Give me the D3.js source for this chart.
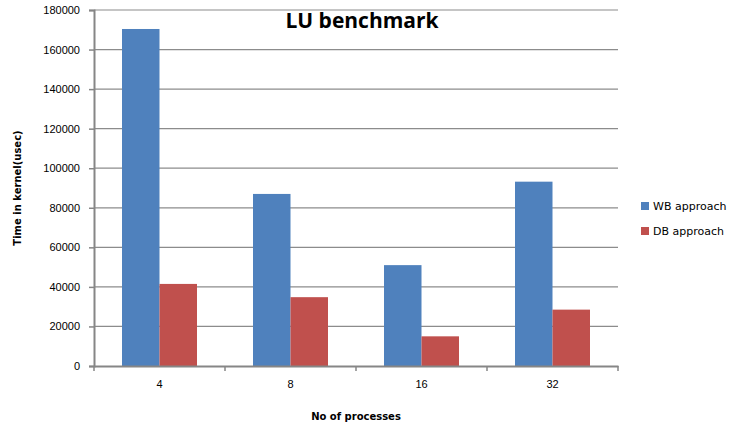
<!DOCTYPE html>
<html>
<head>
<meta charset="utf-8">
<script src="https://cdn.jsdelivr.net/npm/d3@7"></script>
<style>
  body { margin: 0; background: #fff; }
  svg { display: block; font-family: "DejaVu Sans", Verdana, sans-serif; }
</style>
</head>
<body>
<svg id="chart" width="730" height="427"></svg>
<script>
// LU benchmark: kernel time per process count
const categories = ["4", "8", "16", "32"];
const seriesNames = ["WB approach", "DB approach"];
const wbValues = [170400, 87000, 51000, 93200];
const dbValues = [41500, 34800, 15000, 28500];
const yTicks = [0, 20000, 40000, 60000, 80000, 100000, 120000, 140000, 160000, 180000];
const colors = ["#4F81BD", "#C0504D"];

(function () {
  const svg = d3.select("#chart");
  const plotLeft = 94, plotRight = 618, plotTop = 10, plotBottom = 366;

  const x = d3.scaleBand().domain(categories).range([plotLeft, plotRight]).paddingInner(0).paddingOuter(0);
  const xInner = d3.scaleBand().domain(seriesNames).range([0, x.bandwidth()]).paddingInner(0).paddingOuter(0.747);
  const y = d3.scaleLinear().domain([0, 180000]).range([plotBottom, plotTop]);

  // horizontal gridlines
  svg.append("g")
    .selectAll("line")
    .data(yTicks.slice(1))
    .join("line")
    .attr("x1", plotLeft).attr("x2", plotRight)
    .attr("y1", d => y(d)).attr("y2", d => y(d))
    .attr("stroke", "#8c8c8c").attr("stroke-width", 1.2);

  // bars
  const rows = categories.map((c, i) => ({ c, vals: [wbValues[i], dbValues[i]] }));
  const groups = svg.append("g").selectAll("g")
    .data(rows).join("g")
    .attr("transform", d => `translate(${x(d.c)},0)`);
  groups.selectAll("rect")
    .data(d => d.vals.map((v, k) => ({ v, k })))
    .join("rect")
    .attr("x", d => xInner(seriesNames[d.k]))
    .attr("width", xInner.bandwidth())
    .attr("y", d => y(d.v))
    .attr("height", d => plotBottom - y(d.v))
    .attr("fill", d => colors[d.k]);

  // y axis
  const yAxis = svg.append("g")
    .attr("transform", `translate(${plotLeft},0)`)
    .call(d3.axisLeft(y).tickValues(yTicks).tickSize(5).tickPadding(9).tickFormat(d3.format("d")));
  yAxis.select(".domain").attr("stroke", "#868686").attr("stroke-width", 2);
  yAxis.selectAll(".tick line").attr("stroke", "#868686").attr("stroke-width", 1.5);
  yAxis.selectAll("text").attr("font-size", 11).attr("fill", "#000");

  // x axis
  const xAxis = svg.append("g")
    .attr("transform", `translate(0,${plotBottom})`)
    .call(d3.axisBottom(x).tickSize(0).tickPadding(14));
  xAxis.select(".domain").attr("stroke", "#868686").attr("stroke-width", 2);
  xAxis.selectAll("text").attr("font-size", 11).attr("fill", "#000");
  // category separators
  xAxis.append("g").selectAll("line")
    .data(categories.map(c => x(c)).concat([plotRight]))
    .join("line")
    .attr("x1", d => d).attr("x2", d => d)
    .attr("y1", 0).attr("y2", 5)
    .attr("stroke", "#868686").attr("stroke-width", 1.5);

  // title
  svg.append("text")
    .attr("x", 362).attr("y", 28)
    .attr("text-anchor", "middle")
    .attr("font-family", "'Open Sans', 'DejaVu Sans', sans-serif")
    .attr("font-weight", "bold").attr("font-size", 21)
    .text("LU benchmark");

  // axis titles
  svg.append("text")
    .attr("transform", "translate(21,188) rotate(-90)")
    .attr("text-anchor", "middle")
    .attr("font-weight", "bold").attr("font-size", 10)
    .text("Time in kernel(usec)");
  svg.append("text")
    .attr("x", 356).attr("y", 420)
    .attr("text-anchor", "middle")
    .attr("font-weight", "bold").attr("font-size", 10)
    .text("No of processes");

  // legend
  const legend = svg.append("g").selectAll("g")
    .data(seriesNames).join("g")
    .attr("transform", (d, i) => `translate(641,${202 + i * 25})`);
  legend.append("rect").attr("width", 8).attr("height", 8).attr("fill", (d, i) => colors[i]);
  legend.append("text").attr("x", 12).attr("y", 8)
    .attr("font-size", 11).text(d => d);
})();
</script>
</body>
</html>
